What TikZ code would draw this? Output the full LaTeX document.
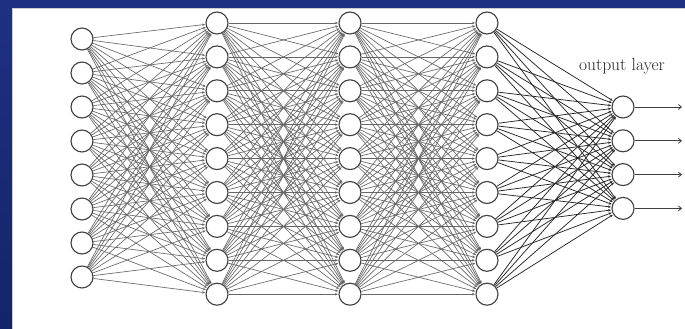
\documentclass[tikz,border=0pt]{standalone}
\usetikzlibrary{arrows.meta}
\definecolor{bgblue}{RGB}{30,48,130}
\definecolor{bgblueD}{RGB}{20,36,105}
\begin{document}
\begin{tikzpicture}[x=1pt,y=-1pt,
  neuron/.style={circle,draw=black!75,line width=1.1pt,fill=white,minimum size=22pt,inner sep=0pt},
  conn/.style={draw=black!60,line width=0.65pt,-{Stealth[length=3pt,width=2.5pt]},shorten >=0.5pt},
  outconn/.style={draw=black!85,line width=0.75pt,-{Stealth[length=3pt,width=2.5pt]},shorten >=0.5pt},
  outarrow/.style={draw=black!75,line width=0.8pt,-{Straight Barb[length=3pt,width=5pt]}},
  lbl/.style={font=\fontsize{17.5}{20}\selectfont,text=black!85,inner sep=0pt}]
\useasboundingbox (0,0) rectangle (685,329);
\shade[top color=bgblue,bottom color=bgblueD] (0,0) rectangle (685,329);
\fill[white] (12,8) rectangle (685,329);
\draw[black!20,line width=0.6pt] (12,329) -- (12,8) -- (685,8);
% input layer
\foreach \i in {1,...,8} \node[neuron] (i\i) at (82,{39+34*(\i-1)}) {};
% hidden layers
\foreach \i in {1,...,9} {
  \node[neuron] (a\i) at (217,{23+33.9*(\i-1)}) {};
  \node[neuron] (b\i) at (350,{23+33.9*(\i-1)}) {};
  \node[neuron] (c\i) at (487,{23+33.9*(\i-1)}) {};
}
% output layer
\foreach \i in {1,...,4} {
  \node[neuron] (o\i) at (623,{107+33.8*(\i-1)}) {};
  \coordinate (e\i) at (682,{107+33.8*(\i-1)});
}
% connections
\foreach \s in {1,...,8} \foreach \d in {1,...,9} \draw[conn] (i\s) -- (a\d);
\foreach \s in {1,...,9} \foreach \d in {1,...,9} \draw[conn] (a\s) -- (b\d);
\foreach \s in {1,...,9} \foreach \d in {1,...,9} \draw[conn] (b\s) -- (c\d);
\foreach \s in {1,...,9} \foreach \d in {1,...,4} \draw[outconn] (c\s) -- (o\d);
\foreach \i in {1,...,4} \draw[outarrow] (o\i) -- (e\i);
\node[lbl] (title) at (622,66) {output layer};
\end{tikzpicture}
\end{document}
